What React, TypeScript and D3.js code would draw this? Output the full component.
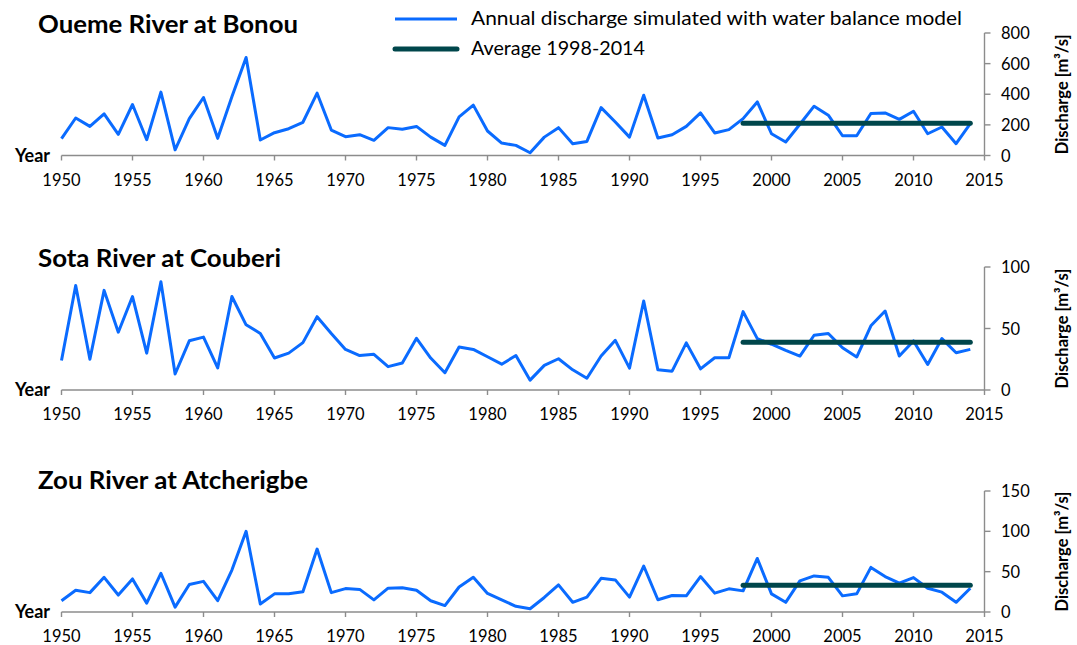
import React from "react";
import * as d3 from "d3";

const years: number[] = d3.range(1950, 2015);
const xTicks: number[] = [1950, 1955, 1960, 1965, 1970, 1975, 1980, 1985, 1990, 1995, 2000, 2005, 2010, 2015];

const oueme: number[] = [
  110, 245, 190, 272, 138, 333, 103, 414, 37, 241,
  379, 112, 383, 640, 101, 149, 175, 217, 407, 166,
  123, 136, 99, 182, 171, 190, 120, 66, 252, 329,
  160, 81, 66, 18, 120, 182, 77, 92, 313, 219,
  120, 394, 114, 136, 190, 278, 147, 169, 241, 350,
  142, 88, 204, 322, 263, 129, 129, 274, 278, 236,
  289, 142, 186, 77, 208,
];
const sota: number[] = [
  24, 85, 25, 81, 47, 76, 30, 88, 13, 40,
  43, 18, 76, 53, 46, 26, 30, 38.5, 59.6, 46,
  33, 28, 29, 19, 22, 42, 26, 14, 35, 33,
  27, 21, 28, 8, 20, 25.4, 16.4, 9.6, 27.6, 40.4,
  17.8, 72.4, 16.4, 15.3, 38.3, 17.2, 26.2, 26.2, 63.7, 41.8,
  37.2, 32.2, 27.6, 44.5, 45.9, 34.4, 26.8, 52.2, 64.2, 27.6,
  39.9, 20.8, 41.8, 30.3, 33,
];
const zou: number[] = [
  14, 27, 24, 43, 21, 41, 11, 48, 6, 34,
  38, 14, 52, 100, 10, 22.5, 22.5, 25, 78, 24,
  29, 28, 15, 29.5, 30, 27, 14, 8, 31, 43,
  23, 15, 7, 4, 18, 33.6, 12, 18.4, 41.8, 39.8,
  18.4, 57, 15.2, 20.5, 20, 43.9, 23.4, 28.7, 26.2, 66.4,
  22.5, 12, 38.5, 44.7, 43, 20, 22.5, 55.3, 43.9, 35.7,
  42.6, 29.5, 24.6, 12, 29.5,
];
const averages: number[] = [210, 38.8, 33.2];
const averagePeriod: number[] = [1998, 2014];
const titles: string[] = ["Oueme River at Bonou", "Sota River at Couberi", "Zou River at Atcherigbe"];
const yTickSets: number[][] = [
  [0, 200, 400, 600, 800],
  [0, 50, 100],
  [0, 50, 100, 150],
];
const legendLabels: string[] = ["Annual discharge simulated with water balance model", "Average 1998-2014"];

const seriesList = [oueme, sota, zou];
const panelLayout = [
  { y0: 155.5, y1: 33, titleW: 260 },
  { y0: 390, y1: 267, titleW: 243 },
  { y0: 612, y1: 491, titleW: 270 },
];
const legendWidths = [491, 174];

const BLUE = "#0a6bff";
const TEAL = "#00464b";
const AXIS = "#8c8c8c";
const FONT = "Lato, 'Open Sans', sans-serif";

export default function App() {
  const W = 1077;
  const H = 645;
  const x = d3.scaleLinear().domain([1950, 2015]).range([61.5, 984.5]);

  return (
    <svg width={W} height={H} style={{ position: "absolute", left: 0, top: 0, background: "#fff" }} fontFamily={FONT}>
      {seriesList.map((vals, i) => {
        const ticks = yTickSets[i];
        const yMax = ticks[ticks.length - 1];
        const { y0, y1, titleW } = panelLayout[i];
        const y = d3.scaleLinear().domain([0, yMax]).range([y0, y1]);
        const line = d3
          .line<number>()
          .x((_, k) => x(years[k]))
          .y((v) => y(v));
        const avg = averages[i];
        return (
          <g key={i}>
            <text
              x={38}
              y={y0 - 123}
              fontSize={24.5}
              fontWeight="bold"
              fill="#000"
              textLength={titleW}
              lengthAdjust="spacingAndGlyphs"
            >
              {titles[i]}
            </text>
            {/* x axis */}
            <line x1={x(1950)} x2={x(2015)} y1={y(0)} y2={y(0)} stroke={AXIS} strokeWidth={1.4} />
            {xTicks.map((t) => (
              <g key={t}>
                <line x1={x(t)} x2={x(t)} y1={y(0)} y2={y(0) + 5} stroke={AXIS} strokeWidth={1.4} />
                <text x={x(t)} y={y(0) + 30} textAnchor="middle" fontSize={16.5} fill="#000">
                  {t}
                </text>
              </g>
            ))}
            <text x={50} y={y(0) + 6} textAnchor="end" fontSize={18} fontWeight="bold" fill="#000">
              Year
            </text>
            {/* y axis */}
            <line x1={x(2015)} x2={x(2015)} y1={y(0)} y2={y(yMax)} stroke={AXIS} strokeWidth={1.4} />
            {ticks.map((t) => (
              <g key={t}>
                <line x1={x(2015)} x2={x(2015) + 6} y1={y(t)} y2={y(t)} stroke={AXIS} strokeWidth={1.4} />
                <text x={1001} y={y(t) + 6} fontSize={16.5} fill="#000">
                  {t}
                </text>
              </g>
            ))}
            <text
              transform={`translate(1068, ${(y(0) + y(yMax)) / 2}) rotate(-90)`}
              textAnchor="middle"
              fontSize={16.5}
              fontWeight="bold"
              fill="#000"
            >
              Discharge [m³/s]
            </text>
            {/* series */}
            <path d={line(vals) || ""} fill="none" stroke={BLUE} strokeWidth={3} strokeLinejoin="round" />
            <line
              x1={x(averagePeriod[0])}
              x2={x(averagePeriod[1])}
              y1={y(avg)}
              y2={y(avg)}
              stroke={TEAL}
              strokeWidth={5}
              strokeLinecap="round"
            />
          </g>
        );
      })}
      {/* legend */}
      <line x1={395} x2={457} y1={19} y2={19} stroke={BLUE} strokeWidth={3} />
      <text x={471} y={25} fontSize={19} fill="#000" textLength={legendWidths[0]} lengthAdjust="spacingAndGlyphs">
        {legendLabels[0]}
      </text>
      <line x1={395} x2={457} y1={49} y2={49} stroke={TEAL} strokeWidth={5} strokeLinecap="round" />
      <text x={471} y={55} fontSize={19} fill="#000" textLength={legendWidths[1]} lengthAdjust="spacingAndGlyphs">
        {legendLabels[1]}
      </text>
    </svg>
  );
}
